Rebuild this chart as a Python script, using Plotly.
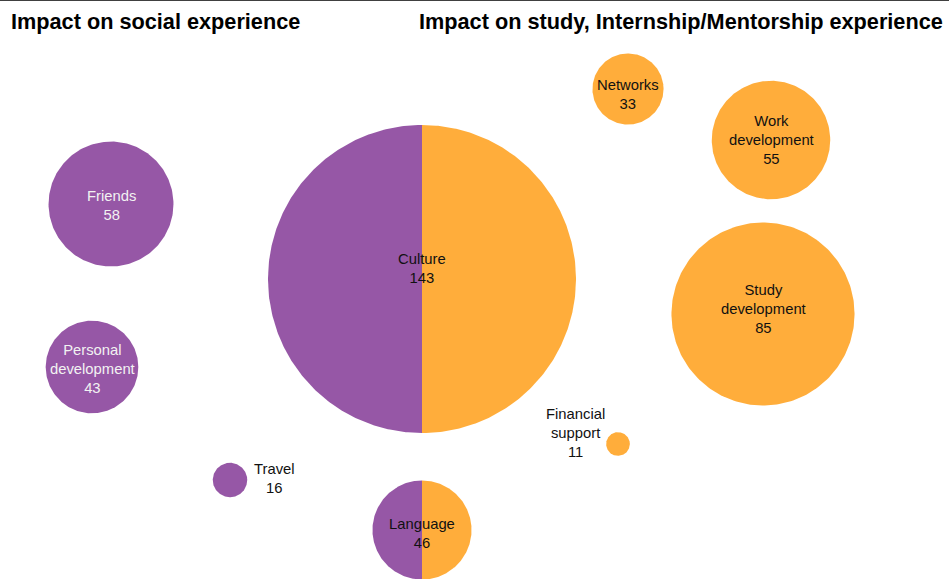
import numpy as np
import plotly.graph_objects as go

# Responses per topic; "both" topics are shared between the two groups
social_topics = ["Friends", "Personal<br>development", "Travel"]
social_values = [58, 43, 16]
study_topics = ["Networks", "Work<br>development", "Study<br>development", "Financial<br>support"]
study_values = [33, 55, 85, 11]
shared_topics = ["Culture", "Language"]
shared_values = [143, 46]

PURPLE = "#9657a6"
ORANGE = "#ffad3b"
SCALE = 1.077  # radius (px) per response

# Layout: bubble centres and label anchors in pixel space
social_xy = [(111, 204), (92, 367), (230, 480)]
social_label_xy = [(111, 205), (92, 369), (274, 478)]
social_label_color = ["#f2f2f2", "#f2f2f2", "#111111"]
study_xy = [(628, 89), (771, 140), (763, 314), (618, 444)]
study_label_xy = [(628, 94), (771, 140), (763, 309), (575, 433)]
shared_xy = [(422, 279), (422, 530)]
shared_label_xy = [(422, 268), (422, 533)]


def arc(cx, cy, r, a0, a1, n=240):
    t = np.linspace(a0, a1, n)
    return cx + r * np.cos(t), cy + r * np.sin(t)


fig = go.Figure()


def add_disc(cx, cy, value, color, a0=0.0, a1=2 * np.pi):
    r = value * SCALE
    x, y = arc(cx, cy, r, a0, a1)
    fig.add_trace(go.Scatter(
        x=x, y=y, mode="lines", fill="toself", fillcolor=color,
        line=dict(width=0, color=color), hoverinfo="skip", showlegend=False,
    ))


for (cx, cy), v in zip(social_xy, social_values):
    add_disc(cx, cy, v, PURPLE)
for (cx, cy), v in zip(study_xy, study_values):
    add_disc(cx, cy, v, ORANGE)
for (cx, cy), v in zip(shared_xy, shared_values):
    add_disc(cx, cy, v, PURPLE, np.pi / 2, 3 * np.pi / 2)
    add_disc(cx, cy, v, ORANGE, -np.pi / 2, np.pi / 2)

annotations = []
for (lx, ly), name, v, col in zip(social_label_xy, social_topics, social_values, social_label_color):
    annotations.append(dict(x=lx, y=ly, text=f"{name}<br>{v}", font=dict(color=col)))
for (lx, ly), name, v in zip(study_label_xy, study_topics, study_values):
    annotations.append(dict(x=lx, y=ly, text=f"{name}<br>{v}", font=dict(color="#111111")))
for (lx, ly), name, v in zip(shared_label_xy, shared_topics, shared_values):
    annotations.append(dict(x=lx, y=ly, text=f"{name}<br>{v}", font=dict(color="#111111")))
for a in annotations:
    a.update(xref="x", yref="y", showarrow=False, xanchor="center", yanchor="middle",
             align="center")
    a["font"].update(family="Liberation Sans, Arial, sans-serif", size=14.8)

title_font = dict(family="Liberation Sans, Arial, sans-serif", size=21.7, color="#000000")
annotations.append(dict(x=9, y=21, xref="x", yref="y", showarrow=False, xanchor="left",
                        yanchor="middle", text="<b>Impact on social experience</b>",
                        font=title_font))
annotations.append(dict(x=945, y=21, xref="x", yref="y", showarrow=False, xanchor="right",
                        yanchor="middle",
                        text="<b>Impact on study, Internship/Mentorship experience</b>",
                        font=title_font))

fig.update_layout(
    width=949, height=579,
    margin=dict(l=0, r=0, t=0, b=0),
    paper_bgcolor="white", plot_bgcolor="white",
    xaxis=dict(range=[0, 949], visible=False, fixedrange=True),
    yaxis=dict(range=[579, 0], visible=False, fixedrange=True),
    annotations=annotations,
    shapes=[dict(type="line", xref="paper", yref="paper", x0=0, x1=1, y0=1, y1=1,
                 line=dict(color="#000000", width=1.5))],
    showlegend=False,
)

fig.write_html("out.html")
